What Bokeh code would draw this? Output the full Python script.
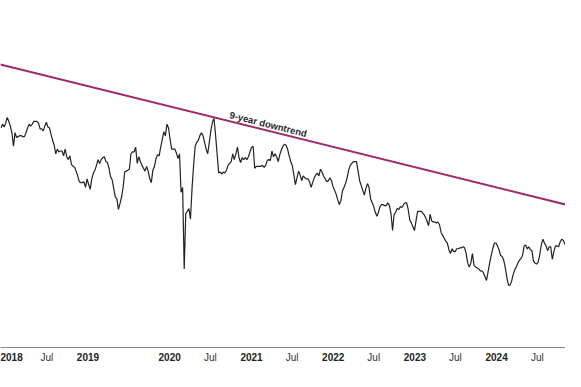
import numpy as np
import pandas as pd
from bokeh.plotting import figure
from bokeh.models import Range1d, FixedTicker, DatetimeAxis
from bokeh.core.properties import value
from bokeh.embed import file_html
from bokeh.resources import INLINE

# ---------------- data ----------------
start_date = "2017-12-08"          # first weekly observation
values = [
    267, 271, 268, 272, 278, 274, 269, 262, 248, 262,
    257, 258, 259, 259, 258, 258, 262, 267, 271, 269,
    271, 274, 274, 274, 272, 266, 266, 264, 269, 273,
    268, 267, 260, 254, 249, 240, 245, 242, 243, 243,
    238, 245, 237, 234, 238, 229, 227, 226, 222, 217,
    211, 210, 210, 211, 205, 214, 208, 203, 214, 220,
    223, 228, 234, 230, 234, 236, 237, 232, 231, 225,
    216, 213, 204, 195, 193, 182, 188, 195, 205, 221,
    222, 223, 224, 240, 242, 242, 247, 230, 237, 232,
    228, 225, 222, 227, 222, 214, 210, 223, 227, 235,
    239, 238, 247, 255, 263, 259, 271, 267, 255, 245,
    245, 245, 241, 235, 240, 200, 205, 120, 178, 180,
    183, 172, 204, 228, 248, 252, 254, 259, 262, 259,
    252, 245, 240, 252, 264, 273, 277, 260, 240, 220,
    221, 219, 221, 220, 223, 228, 230, 232, 240, 234,
    240, 247, 236, 231, 236, 234, 236, 234, 237, 242,
    247, 248, 225, 227, 227, 227, 227, 228, 226, 228,
    233, 234, 233, 243, 237, 240, 237, 232, 239, 244,
    248, 250, 249, 245, 238, 232, 228, 218, 208, 215,
    222, 218, 212, 217, 215, 214, 214, 211, 205, 210,
    215, 218, 220, 217, 224, 221, 217, 214, 211, 212,
    215, 212, 206, 202, 198, 192, 187, 191, 201, 205,
    209, 215, 223, 228, 230, 232, 232, 232, 222, 212,
    207, 202, 197, 204, 209, 205, 193, 189, 185, 179,
    175, 179, 185, 187, 187, 186, 186, 189, 186, 178,
    160, 177, 179, 183, 182, 185, 184, 187, 189, 189,
    182, 171, 168, 164, 160, 170, 180, 180, 180, 179,
    177, 174, 170, 165, 177, 170, 169, 169, 168, 169,
    166, 158, 155, 152, 149, 147, 140, 136, 141, 138,
    138, 141, 141, 142, 142, 143, 142, 136, 126, 122,
    126, 136, 124, 122, 121, 120, 118, 118, 116, 112,
    108, 117, 126, 134, 141, 147, 147, 144, 140, 134,
    133, 129, 121, 111, 103, 103, 107, 114, 119, 122,
    126, 129, 131, 134, 144, 145, 141, 143, 140, 139,
    128, 126, 125, 127, 135, 145, 151, 147, 144, 139,
    143, 143, 130, 138, 144, 144, 143, 148, 151, 150, 146, 145,
]

trend_dates = ["2017-12-06", "2024-11-04"]
trend_values = [333.3, 187.2]
trend_label = "9-year downtrend"
trend_label_date = "2021-03-11"

year_tick_dates = ["2018-01-01", "2019-01-01", "2020-01-01", "2021-01-01",
                   "2022-01-01", "2023-01-01", "2024-01-01"]
year_tick_labels = ["2018", "2019", "2020", "2021", "2022", "2023", "2024"]
jul_tick_dates = ["2018-07-01", "2020-07-01", "2021-07-01", "2022-07-01",
                  "2023-07-01", "2024-07-01"]
jul_tick_labels = ["Jul"] * len(jul_tick_dates)

x_start, x_end = "2017-12-06", "2024-11-04"
y_start, y_end = 38, 400


def to_ms(d):
    return pd.Timestamp(d).timestamp() * 1000.0


dates = pd.date_range(start_date, periods=len(values), freq="7D")

W, H = 565, 371
AXIS_H = 24
p = figure(width=W, height=H, x_axis_type=None,
           x_range=Range1d(pd.Timestamp(x_start), pd.Timestamp(x_end)),
           y_range=Range1d(y_start, y_end),
           toolbar_location=None, output_backend="svg",
           min_border_left=0, min_border_right=0, min_border_top=0,
           min_border_bottom=AXIS_H)

p.background_fill_color = "white"
p.border_fill_color = "white"
p.outline_line_color = None
p.grid.visible = False
p.yaxis.visible = False

# series
p.line(dates, values, line_color="#222222", line_width=1.2)

# trend line
td = pd.to_datetime(trend_dates)
p.line(td, trend_values, line_color="#9e2a6e", line_width=2)

# trend label, sitting on the line and rotated along it
tms = [to_ms(d) for d in trend_dates]
lx = to_ms(trend_label_date)
ly = float(np.interp(lx, tms, trend_values))
x_span = to_ms(x_end) - to_ms(x_start)
frame_h_px = H - AXIS_H
px_per_ms = W / x_span
px_per_val = frame_h_px / (y_end - y_start)
slope = (trend_values[1] - trend_values[0]) * px_per_val / ((tms[1] - tms[0]) * px_per_ms)
angle = float(np.arctan(slope))
p.text(x=[pd.Timestamp(trend_label_date)], y=[ly], text=[trend_label], angle=angle,
       text_align="center", text_baseline="bottom", y_offset=-1,
       text_font=value("Liberation Sans"), text_font_size="9.5px",
       text_font_style="bold", text_color="#2a2a2a")


def style_axis(ax, dates_, labels_, bold, standoff, line_color):
    ticks = [to_ms(d) for d in dates_]
    ax.ticker = FixedTicker(ticks=ticks)
    ax.major_label_overrides = {t: s for t, s in zip(ticks, labels_)}
    ax.axis_line_color = line_color
    ax.axis_line_width = 1
    ax.major_tick_line_color = None
    ax.minor_tick_line_color = None
    ax.major_tick_out = 0
    ax.major_tick_in = 0
    ax.major_label_standoff = standoff
    ax.major_label_text_font = "Liberation Sans"
    ax.major_label_text_font_size = "10px"
    ax.major_label_text_font_style = "bold" if bold else "normal"
    ax.major_label_text_color = "#222222" if bold else "#333333"


year_axis = DatetimeAxis()
style_axis(year_axis, year_tick_dates, year_tick_labels, True, 5, "#8a8a8a")
p.add_layout(year_axis, "below")

jul_axis = DatetimeAxis()
style_axis(jul_axis, jul_tick_dates, jul_tick_labels, False, -12, None)
p.add_layout(jul_axis, "below")

open("out.html", "w").write(file_html(p, INLINE))
